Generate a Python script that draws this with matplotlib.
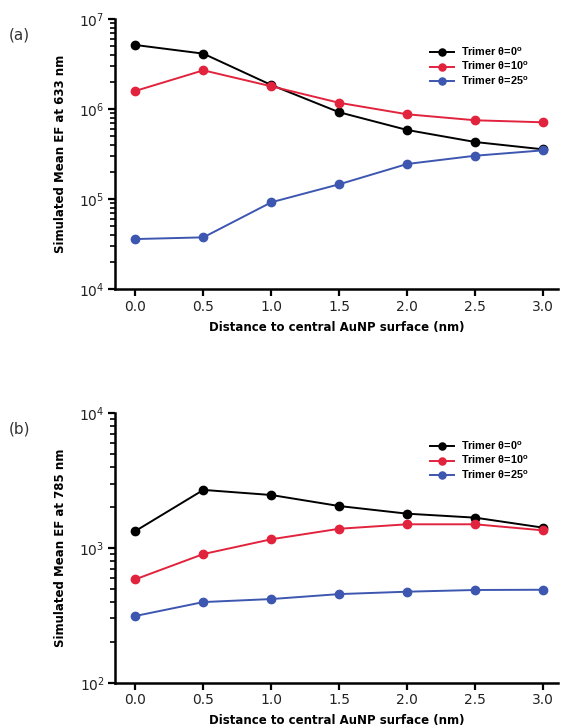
import matplotlib
matplotlib.use("Agg")
import matplotlib.pyplot as plt
import matplotlib.ticker as mtick

distance = [0.0, 0.5, 1.0, 1.5, 2.0, 2.5, 3.0]
labels = ["Trimer θ=0$^\\mathregular{o}$", "Trimer θ=10$^\\mathregular{o}$",
          "Trimer θ=25$^\\mathregular{o}$"]

# mean EF at 633 nm
ef633_t0 = [5.18e6, 4.15e6, 1.86e6, 9.26e5, 5.89e5, 4.33e5, 3.59e5]
ef633_t10 = [1.60e6, 2.71e6, 1.80e6, 1.18e6, 8.80e5, 7.55e5, 7.17e5]
ef633_t25 = [3.62e4, 3.78e4, 9.27e4, 1.47e5, 2.47e5, 3.05e5, 3.50e5]

# mean EF at 785 nm
ef785_t0 = [1337, 2700, 2474, 2049, 1798, 1680, 1416]
ef785_t10 = [586, 902, 1161, 1390, 1500, 1500, 1352]
ef785_t25 = [313, 397, 418, 455, 474, 488, 490]

colors = ["#000000", "#e2233d", "#3d56b0"]


def panel(ax, series, ylim, ylabel, tag):
    for ys, c, lab in zip(series, colors, labels):
        ax.plot(distance, ys, "-o", color=c, lw=1.4, ms=6, label=lab)
    ax.set_yscale("log")
    ax.set_ylim(*ylim)
    ax.set_xlim(-0.15, 3.11)
    ax.set_xticks(distance)
    ax.xaxis.set_major_formatter(mtick.FormatStrFormatter("%.1f"))
    ax.yaxis.set_minor_locator(mtick.LogLocator(base=10, subs=range(2, 10), numticks=20))
    ax.yaxis.set_minor_formatter(mtick.NullFormatter())
    for s in ("top", "right"):
        ax.spines[s].set_visible(False)
    for s in ("left", "bottom"):
        ax.spines[s].set_linewidth(1.8)
    ax.tick_params(which="major", direction="out", length=5, width=1.6,
                   labelsize=10, labelcolor="#222222", pad=2.5)
    ax.tick_params(which="minor", direction="out", length=3.5, width=1.2)
    ax.set_xlabel("Distance to central AuNP surface (nm)", fontsize=8.5,
                  fontweight="bold", labelpad=5)
    ax.set_ylabel(ylabel, fontsize=8.5, fontweight="bold", labelpad=9)
    ax.legend(loc="upper left", bbox_to_anchor=(0.69, 0.94), frameon=False,
              prop={"family": "Liberation Sans", "weight": "bold", "size": 7.8},
              handlelength=2.2, handletextpad=0.6, labelspacing=0.22,
              markerscale=0.85)
    ax.text(-0.215, 0.94, tag, transform=ax.transAxes, fontsize=11,
            color="#333333", ha="center", va="center")


fig = plt.figure(figsize=(5.63, 7.27), dpi=100)
ax_a = fig.add_axes([0.2043, 0.602, 0.787, 0.3715])
ax_b = fig.add_axes([0.2043, 0.0609, 0.787, 0.3706])

panel(ax_a, [ef633_t0, ef633_t10, ef633_t25], (1e4, 1e7),
      "Simulated Mean EF at 633 nm", "(a)")
panel(ax_b, [ef785_t0, ef785_t10, ef785_t25], (1e2, 1e4),
      "Simulated Mean EF at 785 nm", "(b)")

fig.savefig("out.png", dpi=100)
